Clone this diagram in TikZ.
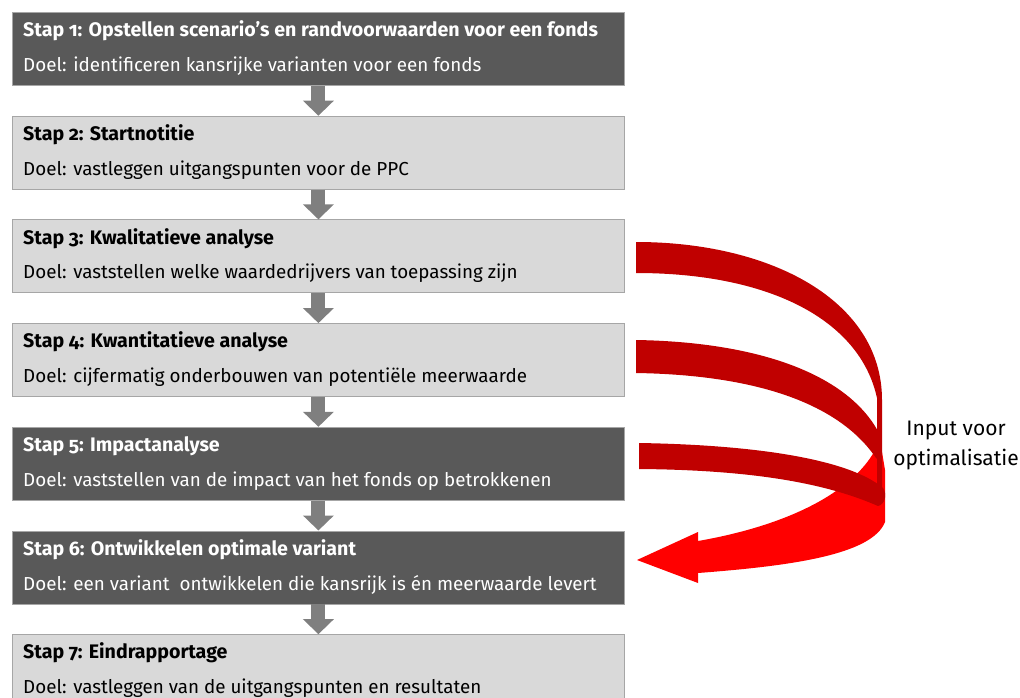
\documentclass[tikz,border=0pt]{standalone}
\usepackage{fontspec}
\setmainfont{Fira Sans}[Numbers=OldStyle]
\usetikzlibrary{arrows.meta,positioning}
\definecolor{donker}{HTML}{595959}
\definecolor{licht}{HTML}{D9D9D9}
\definecolor{rand}{HTML}{A6A6A6}
\definecolor{pijlgrijs}{HTML}{7F7F7F}
\definecolor{donkerrood}{HTML}{C00000}
\definecolor{felrood}{HTML}{FF0000}
\tikzset{
  stap/.style={draw=rand, line width=0.8pt, minimum width=612pt, minimum height=73pt, anchor=north west, inner sep=0pt},
  stapdonker/.style={stap, fill=donker},
  staplicht/.style={stap, fill=licht},
  titel/.style={anchor=west, inner sep=0pt, font=\fontsize{19.6}{22}\selectfont\bfseries},
  doel/.style={anchor=west, inner sep=0pt, font=\fontsize{18.8}{22}\selectfont},
  grijspijl/.style={draw=pijlgrijs, line width=14pt, -{Triangle[width=30pt,length=15pt]}},
}
\begin{document}
\begin{tikzpicture}[x=1pt,y=-1pt]
  \useasboundingbox (0,0) rectangle (1020,698);
  \foreach \i/\stijl/\kleur/\titeltekst/\doeltekst in {
    1/stapdonker/white/{Stap 1: Opstellen scenario’s en randvoorwaarden voor een fonds}/{Doel: identificeren kansrijke varianten voor een fonds},
    2/staplicht/black/{Stap 2: Startnotitie}/{Doel: vastleggen uitgangspunten voor de PPC},
    3/staplicht/black/{Stap 3: Kwalitatieve analyse}/{Doel: vaststellen welke waardedrijvers van toepassing zijn},
    4/staplicht/black/{Stap 4: Kwantitatieve analyse}/{Doel: cijfermatig onderbouwen van potentiële meerwaarde},
    5/stapdonker/white/{Stap 5: Impactanalyse}/{Doel: vaststellen van de impact van het fonds op betrokkenen},
    6/stapdonker/white/{Stap 6: Ontwikkelen optimale variant}/{Doel: een variant\ \ ontwikkelen die kansrijk is én meerwaarde levert},
    7/staplicht/black/{Stap 7: Eindrapportage}/{Doel: vastleggen van de uitgangspunten en resultaten}} {
    \node[\stijl] (stap\i) at (12,{12+(\i-1)*103.7}) {};
    \node[titel, text=\kleur] (titel\i) at ([xshift=11pt,yshift=-19pt]stap\i.north west) {\titeltekst};
    \node[doel, text=\kleur] (doel\i) at ([xshift=11pt,yshift=-54pt]stap\i.north west) {\doeltekst};
  }
  \foreach \i [evaluate=\i as \j using int(\i+1)] in {1,...,6}
    \draw[grijspijl] (stap\i.south) -- (stap\j.north);
  % terugkoppeling naar stap 6
  \fill[felrood] (880,440) -- (885,470) -- (885,522) .. controls (872,555) and (790,566) .. (698,573)
    -- (698,583) -- (637,560) -- (698,532) -- (698,541) .. controls (790,525) and (860,490) .. cycle;
  \fill[donkerrood] (636,242) .. controls (770,242) and (882,300) .. (882,400) -- (882,497)
    -- (877,497) -- (877,398) .. controls (860,320) and (770,273) .. (636,273) -- cycle;
  \fill[donkerrood] (636,340) .. controls (760,342) and (850,375) .. (880,435) -- (880,462)
    -- (876,458) .. controls (840,405) and (760,375) .. (636,373) -- cycle;
  \fill[donkerrood] (639,443) .. controls (760,445) and (850,460) .. (883,488)
    .. controls (888,495) and (884,505) .. (878,506) .. controls (830,485) and (760,470) .. (639,469) -- cycle;
  \node[font=\fontsize{21}{30}\selectfont, align=center] (input) at (956,445) {Input voor\\optimalisatie};
\end{tikzpicture}
\end{document}
